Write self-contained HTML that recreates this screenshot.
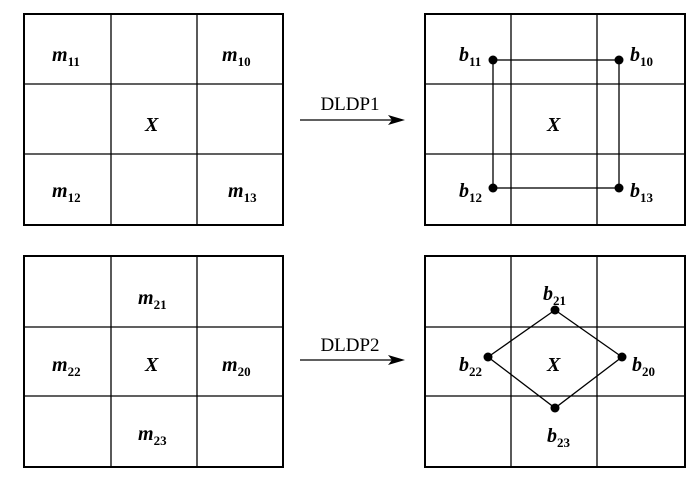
<!DOCTYPE html>
<html><head><style>body{margin:0;background:#fff}</style></head><body>
<svg width="700" height="482" xmlns="http://www.w3.org/2000/svg" font-family="Liberation Serif, serif">
<g fill="none" stroke="#000">
<rect x="24" y="14" width="259" height="211" stroke-width="2"/>
<rect x="425" y="14" width="260" height="211" stroke-width="2"/>
<rect x="24" y="256" width="259" height="211" stroke-width="2"/>
<rect x="425" y="256" width="260" height="211" stroke-width="2"/>
<g stroke-width="1.3">
<path d="M111 14V225M197 14V225M24 84H283M24 154H283"/>
<path d="M511 14V225M597 14V225M425 84H685M425 154H685"/>
<path d="M111 256V467M197 256V467M24 327H283M24 396H283"/>
<path d="M511 256V467M597 256V467M425 327H685M425 396H685"/>
<rect x="493" y="60" width="126" height="128"/>
<path d="M555 310L622 357L555 408L488 357Z"/>
<path d="M300 120H395M300 360H395"/>
</g></g>
<path d="M405 120L388 115L392 120L388 125Z M405 360L388 355L392 360L388 365Z"/>
<g fill="#000">
<circle cx="493" cy="60" r="4.5"/><circle cx="619" cy="60" r="4.5"/><circle cx="493" cy="188" r="4.5"/><circle cx="619" cy="188" r="4.5"/>
<circle cx="555" cy="310" r="4.5"/><circle cx="622" cy="357" r="4.5"/><circle cx="555" cy="408" r="4.5"/><circle cx="488" cy="357" r="4.5"/>
</g>
<g font-size="20" font-style="italic" font-weight="bold">
<text x="52" y="61">m<tspan font-size="13" font-style="normal" dy="5">11</tspan></text>
<text x="222" y="61">m<tspan font-size="13" font-style="normal" dy="5">10</tspan></text>
<text x="52" y="197">m<tspan font-size="13" font-style="normal" dy="5">12</tspan></text>
<text x="228" y="197">m<tspan font-size="13" font-style="normal" dy="5">13</tspan></text>
<text x="145" y="131">X</text>
<text x="138" y="304">m<tspan font-size="13" font-style="normal" dy="5">21</tspan></text>
<text x="52" y="371">m<tspan font-size="13" font-style="normal" dy="5">22</tspan></text>
<text x="222" y="371">m<tspan font-size="13" font-style="normal" dy="5">20</tspan></text>
<text x="138" y="440">m<tspan font-size="13" font-style="normal" dy="5">23</tspan></text>
<text x="145" y="371">X</text>
<text x="459" y="61">b<tspan font-size="13" font-style="normal" dy="5">11</tspan></text>
<text x="630" y="61">b<tspan font-size="13" font-style="normal" dy="5">10</tspan></text>
<text x="459" y="197">b<tspan font-size="13" font-style="normal" dy="5">12</tspan></text>
<text x="630" y="197">b<tspan font-size="13" font-style="normal" dy="5">13</tspan></text>
<text x="547" y="131">X</text>
<text x="543" y="300">b<tspan font-size="13" font-style="normal" dy="5">21</tspan></text>
<text x="459" y="371">b<tspan font-size="13" font-style="normal" dy="5">22</tspan></text>
<text x="632" y="371">b<tspan font-size="13" font-style="normal" dy="5">20</tspan></text>
<text x="547" y="442">b<tspan font-size="13" font-style="normal" dy="5">23</tspan></text>
<text x="547" y="371">X</text>
</g>
<g font-size="19" text-anchor="middle">
<text x="350" y="110">DLDP1</text>
<text x="350" y="351">DLDP2</text>
</g>
</svg>
</body></html>
